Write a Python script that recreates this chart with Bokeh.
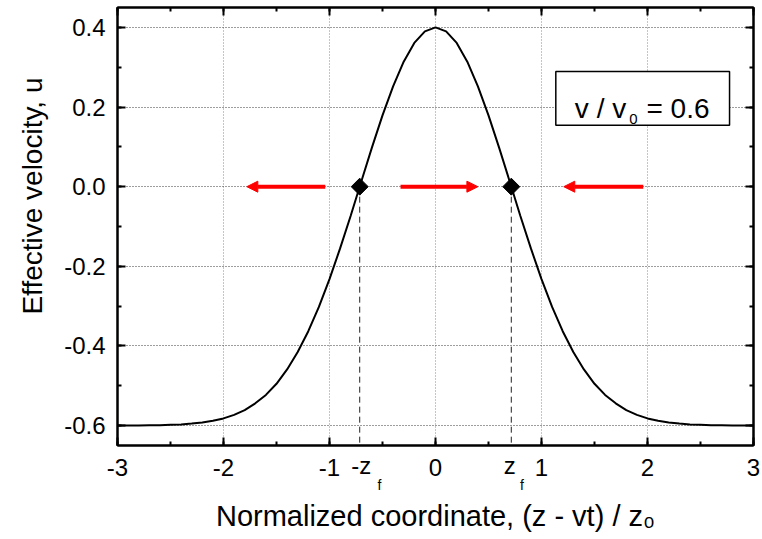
import numpy as np
from bokeh.plotting import figure
from bokeh.models import (LinearAxis, SingleIntervalTicker, FixedTicker, NumeralTickFormatter, Label,
                          BoxAnnotation, Arrow, NormalHead, Range1d, CustomJSTickFormatter, Title)
from bokeh.embed import file_html
from bokeh.resources import INLINE

# ---------------- data ----------------
x_norm = [-3.0, -2.9, -2.8, -2.7, -2.6, -2.5, -2.4, -2.3, -2.2, -2.1,
          -2.0, -1.9, -1.8, -1.7, -1.6, -1.5, -1.4, -1.3, -1.2, -1.1,
          -1.0, -0.9, -0.8, -0.7, -0.6, -0.5, -0.4, -0.3, -0.2, -0.1,
          0.0, 0.1, 0.2, 0.3, 0.4, 0.5, 0.6, 0.7, 0.8, 0.9,
          1.0, 1.1, 1.2, 1.3, 1.4, 1.5, 1.6, 1.7, 1.8, 1.9,
          2.0, 2.1, 2.2, 2.3, 2.4, 2.5, 2.6, 2.7, 2.8, 2.9, 3.0]
u_eff = [-0.600, -0.600, -0.600, -0.599, -0.599, -0.598, -0.597, -0.595, -0.592, -0.588,
         -0.582, -0.573, -0.561, -0.544, -0.523, -0.495, -0.459, -0.415, -0.363, -0.302,
         -0.232, -0.155, -0.073, 0.013, 0.098, 0.179, 0.252, 0.314, 0.361, 0.390,
         0.400, 0.390, 0.361, 0.314, 0.252, 0.179, 0.098, 0.013, -0.073, -0.155,
         -0.232, -0.302, -0.363, -0.415, -0.459, -0.495, -0.523, -0.544, -0.561, -0.573,
         -0.582, -0.588, -0.592, -0.595, -0.597, -0.598, -0.599, -0.599, -0.600, -0.600, -0.600]

zf_x = [-0.715, 0.715]
zf_u = [0.0, 0.0]
zf_label_x = [-0.700, 0.700]     # centres of the "-z" / "z" tick texts
zf_labels = ["-z", "z"]
zf_sub_x = [-0.530, 0.815]       # centres of their subscript "f"

arrow_x_start = [-1.04, -0.33, 1.96]
arrow_x_end = [-1.78, 0.40, 1.21]
arrow_u = [0.0, 0.0, 0.0]

x_limits = (-3.0, 3.0)
u_limits = (-0.65, 0.45)

FONT = "Liberation Sans"
TICK_SIZE = "24px"
TITLE_SIZE = "29px"

p = figure(width=762, height=539, title=None,
           min_border_left=116, min_border_right=9, min_border_top=7, min_border_bottom=94,
           x_range=Range1d(*x_limits), y_range=Range1d(*u_limits),
           output_backend="svg", toolbar_location=None)
p.background_fill_color = "white"
p.border_fill_color = "white"
p.outline_line_color = "black"
p.outline_line_width = 2

xticker = SingleIntervalTicker(interval=1, num_minor_ticks=2)
yticker = SingleIntervalTicker(interval=0.2, num_minor_ticks=2)


def style_axis(ax):
    ax.axis_line_color = "black"
    ax.axis_line_width = 2
    ax.major_tick_in = 8
    ax.major_tick_out = 0
    ax.minor_tick_in = 4
    ax.minor_tick_out = 0
    ax.major_tick_line_width = 2
    ax.minor_tick_line_width = 2
    ax.major_tick_line_color = "black"
    ax.minor_tick_line_color = "black"
    ax.major_label_text_font = FONT
    ax.major_label_text_font_size = TICK_SIZE
    ax.major_label_text_color = "black"


xaxis = p.xaxis[0]
yaxis = p.yaxis[0]
xaxis.ticker = xticker
yaxis.ticker = yticker
p.xgrid.ticker = xticker
p.ygrid.ticker = yticker
xaxis.formatter = NumeralTickFormatter(format="0")
yaxis.formatter = NumeralTickFormatter(format="0.0")
style_axis(xaxis)
style_axis(yaxis)
xaxis.major_label_standoff = 13
yaxis.major_label_standoff = 12
xaxis.axis_label = None
yaxis.axis_label = None

blank = CustomJSTickFormatter(code="return ''")
top_ax = LinearAxis(ticker=xticker, formatter=blank)
right_ax = LinearAxis(ticker=yticker, formatter=blank)
for ax in (top_ax, right_ax):
    style_axis(ax)
    ax.major_label_text_font_size = "0px"
    ax.major_label_standoff = 0
p.add_layout(top_ax, "above")
p.add_layout(right_ax, "right")


def label_only_axis(ticks, labels, size, standoff):
    ax = LinearAxis(ticker=FixedTicker(ticks=ticks, minor_ticks=[]),
                    major_label_overrides={t: s for t, s in zip(ticks, labels)})
    ax.axis_line_color = None
    ax.major_tick_line_color = None
    ax.minor_tick_line_color = None
    ax.major_tick_in = 0
    ax.major_tick_out = 0
    ax.minor_tick_in = 0
    ax.minor_tick_out = 0
    ax.major_label_text_font = FONT
    ax.major_label_text_font_size = size
    ax.major_label_text_color = "black"
    ax.major_label_standoff = standoff
    return ax


# "-z_f" and "z_f" tick labels (main letters, then subscripts)
z_axis = label_only_axis(zf_label_x, zf_labels, TICK_SIZE, -27)
f_axis = label_only_axis(zf_sub_x, ["f", "f"], "14px", -5)
f_axis.axis_label = "Normalized coordinate, (z - vt) / z\u2080"
f_axis.axis_label_text_font = FONT
f_axis.axis_label_text_font_size = TITLE_SIZE
f_axis.axis_label_text_font_style = "normal"
f_axis.axis_label_text_color = "black"
f_axis.axis_label_standoff = 4
p.add_layout(z_axis, "below")
p.add_layout(f_axis, "below")

# y axis title
p.add_layout(Title(text="Effective velocity, u", align="right", offset=70, standoff=28,
                   text_font=FONT, text_font_size="28px", text_font_style="normal",
                   text_color="black"), "left")

p.xgrid.grid_line_color = "#8a8a8a"
p.xgrid.grid_line_dash = "1 2"
p.xgrid.grid_line_width = 1
p.ygrid.grid_line_color = "#3a3a3a"
p.ygrid.grid_line_dash = "1 2"
p.ygrid.grid_line_width = 1

# dashed drop lines from the fixed points to the axis
p.segment(x0=zf_x, y0=zf_u, x1=zf_x, y1=[u_limits[0]] * len(zf_x),
          line_color="#222222", line_width=1, line_dash="6 4")

# curve
p.line(x_norm, u_eff, line_color="black", line_width=2)

# arrows
for xs, xe, yy in zip(arrow_x_start, arrow_x_end, arrow_u):
    p.add_layout(Arrow(x_start=xs, y_start=yy, x_end=xe, y_end=yy,
                       line_color="red", line_width=4,
                       end=NormalHead(size=11, fill_color="red", line_color="red", line_width=1)))

# fixed points
p.scatter(zf_x, zf_u, marker="square", angle=np.pi / 4, size=12, color="black")

# annotation box
p.add_layout(BoxAnnotation(left=1.135, right=2.774, top=0.289, bottom=0.154,
                           fill_color="white", fill_alpha=1.0,
                           line_color="black", line_width=1.5, line_alpha=1.0))
p.add_layout(Label(x=1.799, y=0.196, text="v / v", text_align="right", text_baseline="alphabetic",
                   text_font=FONT, text_font_size="28px", text_color="black"))
p.add_layout(Label(x=1.827, y=0.171, text="0", text_align="left", text_baseline="alphabetic",
                   text_font=FONT, text_font_size="15px", text_color="black"))
p.add_layout(Label(x=1.990, y=0.196, text="= 0.6", text_align="left", text_baseline="alphabetic",
                   text_font=FONT, text_font_size="28px", text_color="black"))

open("out.html", "w").write(file_html(p, INLINE))
